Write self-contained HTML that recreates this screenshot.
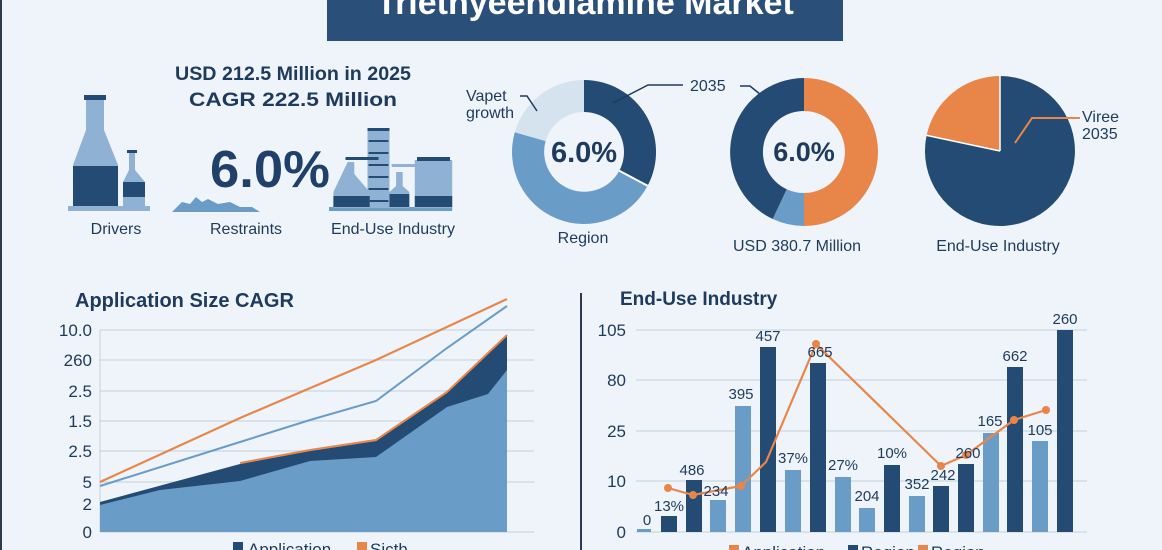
<!DOCTYPE html>
<html><head><meta charset="utf-8"><style>
html,body{margin:0;padding:0;background:#eef4f9;}
svg{display:block;font-family:"Liberation Sans",sans-serif;}
</style></head><body>
<svg width="1162" height="550" viewBox="0 0 1162 550" xmlns="http://www.w3.org/2000/svg">
<rect width="1162" height="550" fill="#eef4f9"/>
<rect x="0" y="0" width="2" height="550" fill="#2a3b4e"/>
<!-- title -->
<rect x="327" y="0" width="516" height="41" fill="#2a5079"/>
<text x="585" y="14" text-anchor="middle" font-size="34" font-weight="bold" fill="#fff">Triethyeendiamine Market</text>

<!-- top left -->
<g fill="#1e3a5c" text-anchor="middle">
<text x="293" y="80" font-size="19" font-weight="bold" textLength="236" lengthAdjust="spacingAndGlyphs">USD 212.5 Million in 2025</text>
<text x="293" y="106" font-size="19" font-weight="bold" textLength="208" lengthAdjust="spacingAndGlyphs">CAGR 222.5 Million</text>
<text x="270" y="187" font-size="52" font-weight="bold" fill="#1f4169" textLength="120" lengthAdjust="spacingAndGlyphs">6.0%</text>
<text x="116" y="234" font-size="16">Drivers</text>
<text x="246" y="234" font-size="16">Restraints</text>
<text x="393" y="234" font-size="16" textLength="124" lengthAdjust="spacingAndGlyphs">End-Use Industry</text>
</g>
<!-- bottles -->
<rect x="68" y="206" width="82" height="5" fill="#8fb2d4"/>
<path d="M86 100h18v30l14 35v41h-45v-41l13-35z" fill="#8fb2d4"/>
<rect x="84" y="95" width="22" height="5" fill="#244b73"/>
<rect x="73" y="166" width="45" height="40" fill="#244b73"/>
<path d="M129 150h6v20l10 12v25h-22v-25l6-12z" fill="#8fb2d4"/>
<rect x="127" y="150" width="10" height="3" fill="#244b73"/>
<rect x="123" y="182" width="22" height="15" fill="#244b73"/>
<!-- mountains -->
<path d="M172 212l10-10 8 2 6-7 6 5 6-3 10 5 12-2 10 5 12 0 8 5z" fill="#6a9cc8"/>
<!-- factory -->
<g transform="translate(329,0) scale(1.1,1) translate(-295,0)">
<rect x="295" y="207" width="112" height="4" fill="#6a9cc8"/>
<rect x="330" y="128" width="20" height="80" fill="#8fb2d4"/>
<g fill="#244b73"><rect x="330" y="128" width="20" height="3"/><rect x="331" y="140" width="18" height="2"/><rect x="331" y="152" width="18" height="2"/><rect x="331" y="164" width="18" height="2"/><rect x="331" y="176" width="18" height="2"/><rect x="331" y="188" width="18" height="2"/><rect x="331" y="200" width="18" height="2"/></g>
<path d="M312 162h6v12l14 18v16h-33v-16z" fill="#8fb2d4"/>
<rect x="310" y="157" width="30" height="3" fill="#244b73"/>
<rect x="299" y="196" width="33" height="11" fill="#244b73"/>
<rect x="352" y="164" width="28" height="3" fill="#8fb2d4"/>
<path d="M356 172h6v14l6 6v16h-18v-16l6-6z" fill="#8fb2d4"/>
<rect x="350" y="194" width="18" height="13" fill="#244b73"/>
<rect x="373" y="160" width="34" height="48" fill="#8fb2d4"/>
<rect x="375" y="157" width="30" height="4" fill="#244b73"/>
<rect x="373" y="196" width="34" height="11" fill="#244b73"/>
</g>

<!-- donut 1 -->
<g transform="translate(584,152)">
<path d="M0,-72A72,72 0 0 1 63.6,33.8L35.3,18.8A40,40 0 0 0 0,-40Z" fill="#244b73"/>
<path d="M63.6,33.8A72,72 0 0 1 -69.2,-19.8L-38.4,-11A40,40 0 0 0 35.3,18.8Z" fill="#6a9cc8"/>
<path d="M-69.2,-19.8A72,72 0 0 1 0,-72L0,-40A40,40 0 0 0 -38.4,-11Z" fill="#d5e3ef"/>
<path d="M63.6,33.8L35.3,18.8" stroke="#fff" stroke-width="2"/>
<text x="0" y="10" text-anchor="middle" font-size="29" font-weight="bold" fill="#1e3a5c">6.0%</text>
</g>
<text x="466" y="101" font-size="16" fill="#1e3a5c">Vapet</text>
<text x="466" y="118" font-size="16" fill="#1e3a5c">growth</text>
<path d="M520 96h7l10 15" stroke="#1e3a5c" stroke-width="1.5" fill="none"/>
<text x="583" y="243" text-anchor="middle" font-size="16" fill="#1e3a5c">Region</text>
<path d="M613 103l35-18h35" stroke="#1e3a5c" stroke-width="1.5" fill="none"/>
<text x="690" y="91" font-size="16" fill="#1e3a5c">2035</text>
<path d="M740 86h10l22 18" stroke="#1e3a5c" stroke-width="1.5" fill="none"/>

<!-- donut 2 -->
<g transform="translate(804,152)">
<path d="M0,-74A74,74 0 0 1 0,74L0,41A41,41 0 0 0 0,-41Z" fill="#e8864a"/>
<path d="M0,74A74,74 0 0 1 -31.3,67L-17.3,37.2A41,41 0 0 0 0,41Z" fill="#6a9cc8"/>
<path d="M-31.3,67A74,74 0 0 1 0,-74L0,-41A41,41 0 0 0 -17.3,37.2Z" fill="#244b73"/>
<text x="0" y="9" text-anchor="middle" font-size="27" font-weight="bold" fill="#1e3a5c">6.0%</text>
</g>
<text x="797" y="251" text-anchor="middle" font-size="16" fill="#1e3a5c">USD 380.7 Million</text>

<!-- pie 3 -->
<g transform="translate(1000,151)">
<path d="M0,0L0,-75A75,75 0 1 1 -73.4,-15.6Z" fill="#244b73"/>
<path d="M0,0L-73.4,-15.6A75,75 0 0 1 0,-75Z" fill="#e8864a"/>
<path d="M0,0L-73.4,-15.6M0,0L0,-75" stroke="#fff" stroke-width="1.5"/>
</g>
<path d="M1015 143l17-25h48" stroke="#e8864a" stroke-width="2" fill="none"/>
<text x="1082" y="122" font-size="16" fill="#1e3a5c">Viree</text>
<text x="1082" y="139" font-size="16" fill="#1e3a5c">2035</text>
<text x="998" y="251" text-anchor="middle" font-size="16" fill="#1e3a5c">End-Use Industry</text>

<!-- left chart -->
<text x="75" y="307" font-size="20" font-weight="bold" fill="#1e3a5c">Application Size CAGR</text>
<g stroke="#c9d6e2" stroke-width="1.2">
<line x1="100" y1="330" x2="534" y2="330"/><line x1="100" y1="360" x2="534" y2="360"/>
<line x1="100" y1="391" x2="534" y2="391"/><line x1="100" y1="421" x2="534" y2="421"/>
<line x1="100" y1="451" x2="534" y2="451"/><line x1="100" y1="482" x2="534" y2="482"/>
<line x1="100" y1="532" x2="534" y2="532"/><line x1="100" y1="330" x2="100" y2="532"/>
</g>
<g font-size="17" fill="#1e3a5c" text-anchor="end">
<text x="92" y="336">10.0</text><text x="92" y="366">260</text><text x="92" y="397">2.5</text>
<text x="92" y="427">1.5</text><text x="92" y="457">2.5</text><text x="92" y="488">5</text>
<text x="92" y="510">2</text><text x="92" y="538">0</text>
</g>
<path d="M100,502 L240,464 310,451 376,441 447,393 507,336 L507,532 100,532Z" fill="#244b73"/>
<path d="M100,505 L160,490 240,481 310,461 376,457 447,407 488,394 507,370 L507,532 100,532Z" fill="#6a9cc8"/>
<path d="M240,463 L310,450 376,440 447,392 507,335" stroke="#e8864a" stroke-width="2" fill="none"/>
<path d="M100,486 L240,442 310,420 376,401 447,348 507,306" stroke="#6a9cc8" stroke-width="2" fill="none"/>
<path d="M100,482 L240,418 376,360 507,299" stroke="#e8864a" stroke-width="2.2" fill="none"/>
<rect x="233" y="542" width="10" height="10" fill="#244b73"/>
<text x="248" y="555" font-size="17" fill="#1e3a5c">Application</text>
<rect x="357" y="542" width="10" height="10" fill="#e8864a"/>
<text x="370" y="555" font-size="17" fill="#1e3a5c">Sicth</text>

<line x1="581" y1="293" x2="581" y2="550" stroke="#2a3b4e" stroke-width="2"/>

<!-- right chart -->
<text x="620" y="305" font-size="19" font-weight="bold" fill="#1e3a5c">End-Use Industry</text>
<g stroke="#c9d6e2" stroke-width="1.2">
<line x1="636" y1="330" x2="1087" y2="330"/><line x1="636" y1="380" x2="1087" y2="380"/>
<line x1="636" y1="431" x2="1087" y2="431"/><line x1="636" y1="481" x2="1087" y2="481"/>
<line x1="636" y1="532" x2="1087" y2="532"/>
</g>
<g font-size="17" fill="#1e3a5c" text-anchor="end">
<text x="626" y="336">105</text><text x="626" y="386">80</text><text x="626" y="437">25</text>
<text x="626" y="487">10</text><text x="626" y="538">0</text>
</g>
<g>
<rect x="637" y="529" width="14" height="3" fill="#6a9cc8"/>
<rect x="661" y="516" width="16" height="16" fill="#244b73"/>
<rect x="686" y="480" width="16" height="52" fill="#244b73"/>
<rect x="710" y="500" width="16" height="32" fill="#6a9cc8"/>
<rect x="735" y="406" width="16" height="126" fill="#6a9cc8"/>
<rect x="760" y="347" width="16" height="185" fill="#244b73"/>
<rect x="785" y="470" width="16" height="62" fill="#6a9cc8"/>
<rect x="810" y="363" width="16" height="169" fill="#244b73"/>
<rect x="835" y="477" width="16" height="55" fill="#6a9cc8"/>
<rect x="859" y="508" width="16" height="24" fill="#6a9cc8"/>
<rect x="884" y="465" width="16" height="67" fill="#244b73"/>
<rect x="909" y="496" width="16" height="36" fill="#6a9cc8"/>
<rect x="933" y="486" width="16" height="46" fill="#244b73"/>
<rect x="958" y="464" width="16" height="68" fill="#244b73"/>
<rect x="983" y="433" width="16" height="99" fill="#6a9cc8"/>
<rect x="1007" y="367" width="16" height="165" fill="#244b73"/>
<rect x="1032" y="441" width="16" height="91" fill="#6a9cc8"/>
<rect x="1057" y="330" width="16" height="202" fill="#244b73"/>
</g>
<path d="M668,488 L693,495 741,486 766,462 816,344 941,466 966,455 1014,420 1046,410" stroke="#e8864a" stroke-width="2.2" fill="none"/>
<g fill="#e8864a"><circle cx="668" cy="488" r="4"/><circle cx="693" cy="495" r="4"/><circle cx="741" cy="486" r="4"/><circle cx="816" cy="344" r="4"/><circle cx="941" cy="466" r="4"/><circle cx="966" cy="455" r="4"/><circle cx="1014" cy="420" r="4"/><circle cx="1046" cy="410" r="4"/></g>
<g font-size="15" fill="#1e3a5c" text-anchor="middle">
<text x="647" y="525">0</text><text x="669" y="511">13%</text><text x="692" y="475">486</text>
<text x="716" y="496">234</text><text x="741" y="399">395</text><text x="768" y="341">457</text>
<text x="793" y="463">37%</text><text x="820" y="357">665</text><text x="843" y="470">27%</text>
<text x="867" y="501">204</text><text x="892" y="458">10%</text><text x="917" y="489">352</text>
<text x="943" y="480">242</text><text x="968" y="458">260</text><text x="990" y="426">165</text>
<text x="1015" y="361">662</text><text x="1040" y="435">105</text><text x="1065" y="324">260</text>
</g>
<rect x="729" y="545" width="10" height="10" fill="#e8864a"/>
<text x="742" y="558" font-size="17" fill="#1e3a5c">Application</text>
<rect x="848" y="545" width="10" height="10" fill="#244b73"/>
<text x="861" y="558" font-size="17" fill="#1e3a5c">Region</text>
<rect x="918" y="545" width="10" height="10" fill="#e8864a"/>
<text x="931" y="558" font-size="17" fill="#1e3a5c">Region</text>
</svg>
</body></html>
